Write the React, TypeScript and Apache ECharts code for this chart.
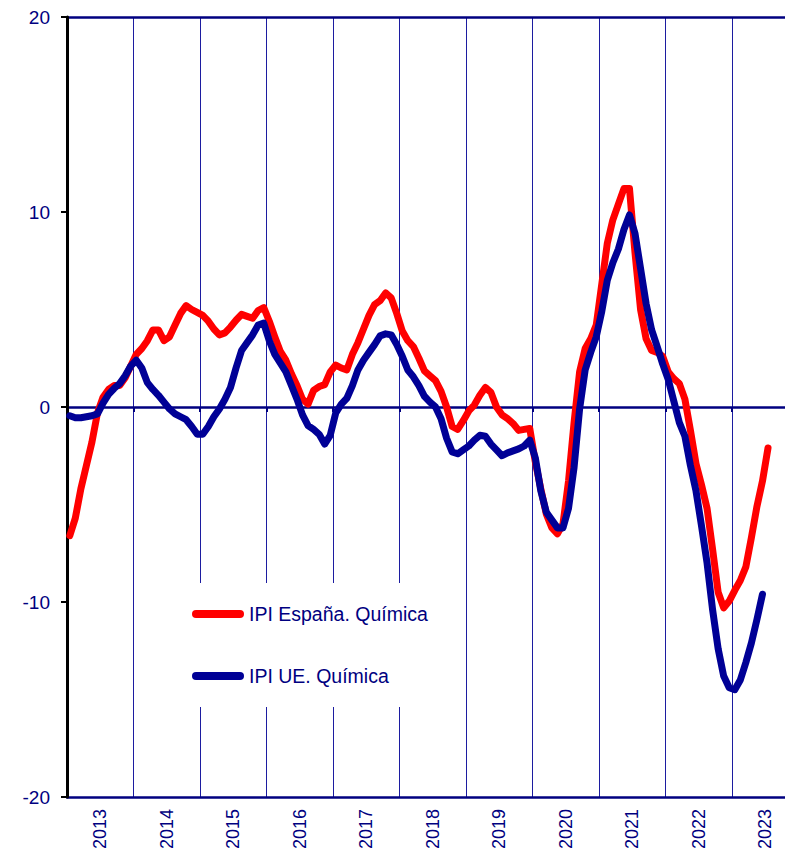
import React, { useEffect, useRef } from "react";
import * as echarts from "echarts";

const years = ["2013", "2014", "2015", "2016", "2017", "2018", "2019", "2020", "2021", "2022", "2023"];

const yTicks = [-20, -10, 0, 10, 20];

const seriesNames = ["IPI España. Química", "IPI UE. Química"];

// Monthly values, Jan 2013 onward
const ipiEspana = [
  -6.6, -5.7, -4.2, -3.0, -1.8, -0.3, 0.5, 0.9, 1.1, 1.1, 1.5, 2.1,
  2.7, 3.0, 3.4, 3.95, 3.95, 3.4, 3.6, 4.2, 4.8, 5.2, 5.0, 4.85,
  4.7, 4.4, 4.0, 3.7, 3.8, 4.1, 4.45, 4.75, 4.65, 4.55, 4.95, 5.1,
  4.4, 3.6, 2.85, 2.4, 1.7, 1.1, 0.4, 0.15, 0.85, 1.05, 1.15, 1.8,
  2.15, 2.0, 1.9, 2.7, 3.3, 4.0, 4.7, 5.25, 5.45, 5.85, 5.6, 4.8,
  3.9, 3.4, 3.1, 2.5, 1.85, 1.6, 1.35, 0.8, 0.0, -1.0, -1.15, -0.7,
  -0.2, 0.1, 0.6, 1.0, 0.75, 0.0, -0.4, -0.6, -0.85, -1.2, -1.15, -1.1,
  -2.8, -4.2, -5.5, -6.2, -6.5, -6.0, -3.8, -0.8, 1.8, 3.0, 3.5, 4.2,
  6.3, 8.4, 9.6, 10.4, 11.2, 11.2, 7.9, 5.0, 3.5, 2.9, 2.8, 2.6,
  1.8, 1.45, 1.2, 0.4, -1.2, -2.9, -4.0, -5.2, -7.3, -9.5, -10.3, -9.95,
  -9.4, -8.9, -8.2, -6.7, -5.1, -3.8, -2.1,
];

const ipiUE = [
  -0.45, -0.55, -0.55, -0.5, -0.45, -0.35, 0.2, 0.65, 0.95, 1.2, 1.6, 2.1,
  2.4, 2.0, 1.25, 0.9, 0.6, 0.25, -0.1, -0.35, -0.5, -0.65, -1.0, -1.4,
  -1.4, -1.0, -0.5, -0.1, 0.4, 1.0, 2.0, 2.9, 3.3, 3.7, 4.2, 4.3,
  3.4, 2.7, 2.25, 1.8, 1.1, 0.4, -0.4, -0.95, -1.15, -1.4, -1.9, -1.45,
  -0.3, 0.15, 0.45, 1.1, 1.9, 2.4, 2.8, 3.2, 3.65, 3.75, 3.7, 3.2,
  2.6, 1.9, 1.55, 1.1, 0.55, 0.25, 0.0, -0.6, -1.6, -2.3, -2.4, -2.2,
  -2.0, -1.7, -1.45, -1.5, -1.9, -2.2, -2.5, -2.35, -2.25, -2.15, -2.0, -1.7,
  -2.6, -4.3, -5.4, -5.8, -6.2, -6.2, -5.2, -3.1, -0.1, 1.9, 2.8, 3.6,
  4.9, 6.5, 7.4, 8.1, 9.1, 9.85, 8.9, 7.1, 5.3, 3.95, 3.1, 2.2,
  1.4, 0.3, -0.8, -1.5, -3.0, -4.3, -6.1, -8.0, -10.4, -12.4, -13.8, -14.4,
  -14.5, -14.0, -13.1, -12.1, -10.9, -9.6,
];

const months: string[] = [];
years.forEach((y) => {
  for (let m = 1; m <= 12; m++) months.push(`${y}-${m < 10 ? "0" + m : m}`);
});

const NAVY = "#000080";
const FONT = "Liberation Sans, Arial, sans-serif";

export default function App() {
  const ref = useRef<HTMLDivElement>(null);
  useEffect(() => {
    if (!ref.current) return;
    const chart = echarts.init(ref.current, undefined, { renderer: "svg" });
    const roundIcon = "path://M4 0H48A4 4 0 0 1 48 8H4A4 4 0 0 1 4 0Z";
    chart.setOption({
      animation: false,
      backgroundColor: "#ffffff",
      textStyle: { fontFamily: FONT },
      grid: { left: 67, right: 1.5, top: 17, bottom: 59, containLabel: false },
      legend: {
        orient: "vertical",
        left: 165,
        top: 583,
        backgroundColor: "#ffffff",
        padding: [21, 20, 21, 27],
        itemWidth: 52,
        itemHeight: 8,
        itemGap: 42,
        textStyle: { fontSize: 19.5, color: NAVY, fontFamily: FONT },
        data: [
          { name: seriesNames[0], icon: roundIcon },
          { name: seriesNames[1], icon: roundIcon },
        ],
      },
      xAxis: [
        {
          type: "category",
          data: months,
          boundaryGap: true,
          position: "bottom",
          axisLine: { show: true, onZero: true, lineStyle: { color: NAVY, width: 2.5 } },
          axisTick: {
            show: true,
            length: 5,
            interval: (i: number) => i % 12 === 0,
            lineStyle: { color: NAVY, width: 2 },
          },
          axisLabel: { show: false },
          splitLine: { show: false },
          z: 3,
        },
        {
          type: "category",
          data: years,
          boundaryGap: true,
          position: "bottom",
          axisLine: { show: true, onZero: false, lineStyle: { color: NAVY, width: 2.5 } },
          axisTick: { show: false },
          axisLabel: {
            show: true,
            rotate: 90,
            fontSize: 18,
            color: NAVY,
            margin: 12,
            fontFamily: FONT,
            interval: 0,
          },
          splitLine: { show: true, interval: 0, lineStyle: { color: "#1c1ca0", width: 1 } },
        },
        {
          type: "category",
          data: years,
          boundaryGap: true,
          position: "top",
          axisLine: { show: true, onZero: false, lineStyle: { color: NAVY, width: 2.5 } },
          axisTick: { show: false },
          axisLabel: { show: false },
          splitLine: { show: false },
        },
      ],
      yAxis: {
        type: "value",
        min: yTicks[0],
        max: yTicks[yTicks.length - 1],
        interval: 10,
        axisLine: { show: true, lineStyle: { color: "#000000", width: 3 } },
        axisTick: { show: true, length: 6, lineStyle: { color: "#000000", width: 2 } },
        axisLabel: { fontSize: 19, color: NAVY, margin: 17, fontFamily: FONT },
        splitLine: { show: false },
        z: 4,
      },
      series: [
        {
          name: seriesNames[0],
          type: "line",
          xAxisIndex: 0,
          data: ipiEspana,
          showSymbol: false,
          symbol: "none",
          lineStyle: { color: "#ff0000", width: 7, cap: "round", join: "round" },
          itemStyle: { color: "#ff0000" },
          z: 5,
        },
        {
          name: seriesNames[1],
          type: "line",
          xAxisIndex: 0,
          data: ipiUE,
          showSymbol: false,
          symbol: "none",
          lineStyle: { color: "#000096", width: 7, cap: "round", join: "round" },
          itemStyle: { color: "#000096" },
          z: 6,
        },
      ],
    });
    return () => chart.dispose();
  }, []);
  return (
    <div
      style={{
        position: "absolute",
        left: 0,
        top: 0,
        width: 785,
        height: 856,
        overflow: "hidden",
        background: "#fff",
      }}
    >
      <div ref={ref} style={{ width: 800, height: 856 }} />
    </div>
  );
}
